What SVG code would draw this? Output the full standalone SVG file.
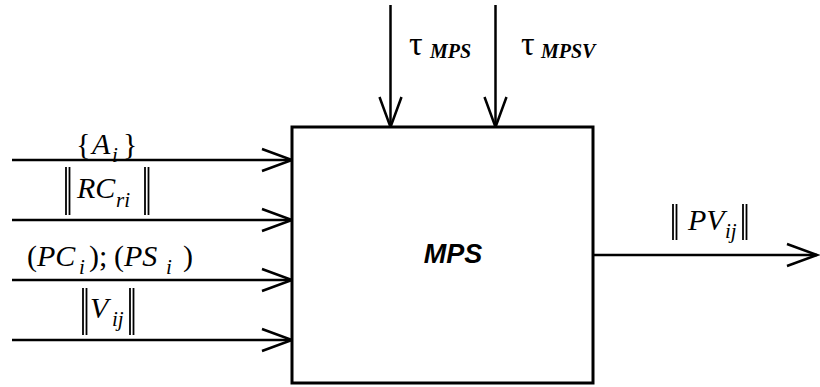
<svg xmlns="http://www.w3.org/2000/svg" width="820" height="387" viewBox="0 0 820 387">
<defs>
<style>
.ln{stroke:#000;stroke-width:2.5;fill:none}
.bar{stroke:#000;stroke-width:1.8}
.t{font-family:"Liberation Serif","Times New Roman",serif;font-size:30px;fill:#000}
.it{font-style:italic}
.sub{font-size:21px;font-style:italic}
.tau{font-family:"Liberation Serif","Times New Roman",serif;font-size:34px;fill:#000}
.ts{font-size:20px;font-style:italic;font-weight:bold}
.box{fill:#fff;stroke:#000;stroke-width:3}
.lbl{font-family:"Liberation Sans",Arial,sans-serif;font-size:27px;font-weight:bold;font-style:italic;fill:#000}
</style>
<marker id="ah" markerUnits="userSpaceOnUse" markerWidth="40" markerHeight="30" viewBox="0 0 40 30" refX="33" refY="13" orient="auto">
<path d="M3,2 L33,13 L3,24" fill="none" stroke="#000" stroke-width="2.5"/>
</marker>
</defs>
<g id="connectors">
<line class="ln" x1="12" y1="160" x2="292" y2="160" marker-end="url(#ah)"/>
<line class="ln" x1="12" y1="220" x2="292" y2="220" marker-end="url(#ah)"/>
<line class="ln" x1="12" y1="280" x2="292" y2="280" marker-end="url(#ah)"/>
<line class="ln" x1="12" y1="340" x2="292" y2="340" marker-end="url(#ah)"/>
<line class="ln" x1="390.5" y1="5" x2="390.5" y2="127" marker-end="url(#ah)"/>
<line class="ln" x1="495.5" y1="5" x2="495.5" y2="127" marker-end="url(#ah)"/>
<line class="ln" x1="593" y1="255" x2="817" y2="255" marker-end="url(#ah)"/>
</g>
<g id="labels">
<text class="t" x="76" y="154">{<tspan class="it" x="92">A</tspan><tspan class="sub" x="112" y="162">i</tspan><tspan x="123" y="154">}</tspan></text>

<line class="bar" x1="66" y1="167" x2="66" y2="215"/>
<line class="bar" x1="69.5" y1="167" x2="69.5" y2="215"/>
<text class="t" x="77" y="198"><tspan class="it">RC</tspan><tspan class="sub" x="116" y="207">ri</tspan></text>
<line class="bar" x1="145" y1="167" x2="145" y2="215"/>
<line class="bar" x1="148.5" y1="167" x2="148.5" y2="215"/>

<text class="t" x="27" y="266">(<tspan class="it" x="37">PC</tspan><tspan class="sub" x="79" y="274">i</tspan><tspan x="89" y="266">);</tspan><tspan x="114">(</tspan><tspan class="it" x="124">PS</tspan><tspan class="sub" x="166" y="274">i</tspan><tspan x="183" y="266">)</tspan></text>

<line class="bar" x1="83" y1="288" x2="83" y2="335"/>
<line class="bar" x1="86.5" y1="288" x2="86.5" y2="335"/>
<text class="t" x="90" y="318"><tspan class="it">V</tspan><tspan class="sub" x="112" y="326">ij</tspan></text>
<line class="bar" x1="130" y1="288" x2="130" y2="335"/>
<line class="bar" x1="133.5" y1="288" x2="133.5" y2="335"/>

<text class="tau" x="409" y="55">τ<tspan class="ts" x="430" y="58">MPS</tspan></text>
<text class="tau" x="521" y="55">τ<tspan class="ts" x="541" y="58">MPSV</tspan></text>

<line class="bar" x1="673" y1="204" x2="673" y2="240"/>
<line class="bar" x1="676.5" y1="204" x2="676.5" y2="240"/>
<text class="t" x="688" y="230"><tspan class="it">PV</tspan><tspan class="sub" x="725" y="238">ij</tspan></text>
<line class="bar" x1="743" y1="204" x2="743" y2="240"/>
<line class="bar" x1="746.5" y1="204" x2="746.5" y2="240"/>
</g>
<g id="node-mps">
<rect class="box" x="292" y="127" width="301" height="256"/>
<text class="lbl" x="453" y="263" text-anchor="middle">MPS</text>
</g>
</svg>
